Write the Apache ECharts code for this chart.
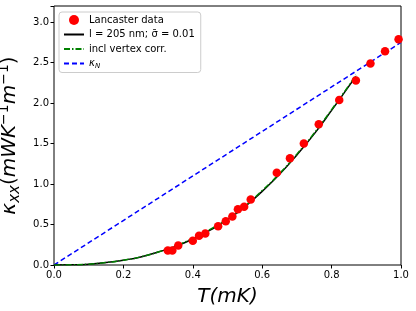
<!DOCTYPE html>
<html><head><meta charset="utf-8">
<script src="https://cdn.jsdelivr.net/npm/echarts@6/dist/echarts.min.js"></script>
<style>html,body{margin:0;padding:0;background:#fff}#c{width:416px;height:311px}</style>
</head><body><div id="c"></div>
<script>
const dataT = [0.328,0.341,0.358,0.400,0.418,0.436,0.473,0.495,0.514,0.530,0.548,0.567,0.642,0.680,0.720,0.763,0.822,0.870,0.912,0.954,0.993];
const dataK = [0.18,0.18,0.24,0.30,0.36,0.39,0.48,0.54,0.60,0.69,0.72,0.81,1.14,1.32,1.50,1.74,2.04,2.28,2.49,2.64,2.79];
const fitT = [0,0.05,0.1,0.15,0.2,0.25,0.3,0.35,0.4,0.45,0.5,0.55,0.6,0.65,0.7,0.75,0.8,0.85,0.87];
const fitK = [0,0.002,0.01,0.03,0.06,0.10,0.16,0.23,0.32,0.43,0.56,0.72,0.91,1.12,1.36,1.62,1.91,2.21,2.33];
const vtxK = [0,0.002,0.01,0.03,0.06,0.10,0.16,0.235,0.33,0.44,0.57,0.73,0.92,1.13,1.37,1.63,1.92,2.22,2.35];
const normT = [0,1];
const normK = [0,2.75];
const xTicks = [0,0.2,0.4,0.6,0.8,1.0];
const yTicks = [0,0.5,1.0,1.5,2.0,2.5,3.0];

const zip=(a,b)=>a.map((v,i)=>[v,b[i]]);
const chart = echarts.init(document.getElementById('c'),null,{renderer:'canvas'});
const F='DejaVu Sans';
const noSym={opacity:0};
chart.setOption({
  animation:false,
  grid:{left:54,right:15,top:6,bottom:46,show:true,borderColor:'#000',borderWidth:1,backgroundColor:'transparent',containLabel:false,outerBoundsMode:'none'},
  xAxis:{type:'value',min:0,max:1,interval:0.2,
    axisLine:{show:false},axisTick:{show:true,length:3.5,lineStyle:{color:'#000'}},
    splitLine:{show:false},
    axisLabel:{color:'#000',fontFamily:F,fontSize:10,margin:5,formatter:v=>v.toFixed(1)},
    name:'T(mK)',nameLocation:'middle',nameGap:22,
    nameTextStyle:{color:'#000',fontFamily:F,fontSize:20,fontStyle:'italic'}},
  yAxis:{type:'value',min:0,max:3.2,interval:0.5,
    axisLine:{show:false},axisTick:{show:true,length:3.5,lineStyle:{color:'#000'}},
    splitLine:{show:false},
    axisLabel:{color:'#000',fontFamily:F,fontSize:10,margin:5,formatter:v=>yTicks.includes(v)?v.toFixed(1):''},
    name:'{a|κ}{s|xx}{b|(}{a|mWK}{p|−1}{a|m}{p|−1}{b|)}',nameLocation:'middle',nameGap:31,
    nameTextStyle:{color:'#000',fontFamily:F,fontSize:20,
      rich:{a:{fontFamily:F,fontSize:20,fontStyle:'italic',color:'#000'},
            b:{fontFamily:F,fontSize:20,color:'#000'},
            s:{fontFamily:F,fontSize:15,fontStyle:'italic',color:'#000',padding:[10,0,0,0]},
            p:{fontFamily:F,fontSize:14,color:'#000',padding:[0,0,10,0]}}}},
  legend:{left:59,top:12,orient:'vertical',itemGap:4.5,itemWidth:20,itemHeight:10,
    padding:[3,6,3,4],borderColor:'#ccc',borderWidth:1,borderRadius:3,backgroundColor:'#fff',
    textStyle:{color:'#000',fontFamily:F,fontSize:10,
      rich:{k:{fontFamily:F,fontSize:10,fontStyle:'italic',color:'#000'},
            n:{fontFamily:F,fontSize:7,fontStyle:'italic',color:'#000',padding:[5,0,0,0]}}},
    formatter:n=>n==='kN'?'{k|κ}{n|N}':n,
    data:[{name:'Lancaster data',icon:'circle',itemStyle:{color:'#ff0000'}},
          {name:'l = 205 nm; σ̄ = 0.01',itemStyle:noSym},{name:'incl vertex corr.',itemStyle:noSym},{name:'kN',itemStyle:noSym}]},
  series:[
    {name:'kN',type:'line',data:zip(normT,normK),symbol:'none',lineStyle:{color:'#0000ff',width:1.5,type:[5,3]},itemStyle:{color:'#0000ff'},z:2},
    {name:'l = 205 nm; σ̄ = 0.01',type:'line',data:zip(fitT,fitK),smooth:true,symbol:'none',lineStyle:{color:'#000',width:1.5},itemStyle:{color:'#000'},z:3},
    {name:'incl vertex corr.',type:'line',data:zip(fitT,vtxK),smooth:true,symbol:'none',lineStyle:{color:'#008000',width:1.5,type:[6,2,1.5,2]},itemStyle:{color:'#008000'},z:4},
    {name:'Lancaster data',type:'scatter',data:zip(dataT,dataK),symbolSize:8.5,itemStyle:{color:'#ff0000',opacity:1},z:5}
  ]
});
</script></body></html>
